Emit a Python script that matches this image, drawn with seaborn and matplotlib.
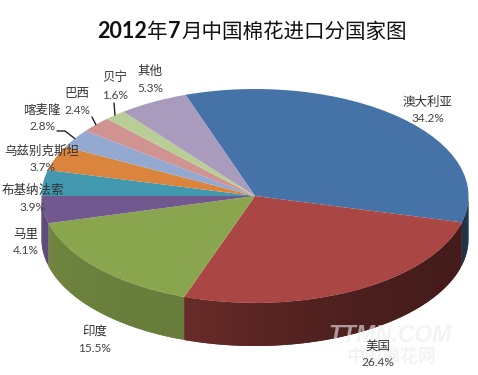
import numpy as np
import matplotlib
matplotlib.use("Agg")
import matplotlib.pyplot as plt
import matplotlib.colors as mcolors
import seaborn as sns

# 数据
countries = ["澳大利亚", "美国", "印度", "马里", "布基纳法索", "乌兹别克斯坦", "喀麦隆", "巴西", "贝宁", "其他"]
shares = [34.2, 26.4, 15.5, 4.1, 3.9, 3.7, 2.8, 2.4, 1.6, 5.3]
title_parts = [("2012", True), ("年", False), ("7", True), ("月中国棉花进口分国家图", False)]

slice_colors = ["#4572A7", "#AA4643", "#89A54E", "#71588F", "#4198AF",
                "#DB843D", "#93A9CF", "#D19392", "#B9CD96", "#A99BBD"]

# 侧面明暗 (左端, 右端)
side_shade = {0: (0.45, 0.45), 1: (0.62, 0.40), 2: (0.82, 0.76), 3: (0.85, 0.85)}

W, H = 478, 375
CX, CY, RX, RY = 255, 196, 213.5, 107
DEPTH = 43 / RY
START = 109

# 标签中心位置 (像素): 名称, 百分比
label_pos = [
    (428, 102, 118), (378, 346, 363), (95, 331, 348), (26, 234, 251), (33, 190, 207),
    (42, 151, 168), (42, 110, 127), (77, 94, 111), (115, 77, 95), (150, 71, 88),
]
# 引线的标签端 (像素)
leader_ends = {6: [(57, 131), (65, 131)], 7: [(92, 117)], 8: [(114, 103)]}


def px_x(x):
    return (x - CX) / RX


def px_y(y):
    return (CY - y) / RY


def draw_sides(ax, values):
    """画饼图前方的侧面, 角度由数据算出"""
    edges = START - np.cumsum([0] + list(values)) / sum(values) * 360
    for i, shade in side_shade.items():
        a0 = min(edges[i], 0)
        a1 = max(edges[i + 1], -180)
        if a0 <= a1:
            continue
        steps = np.linspace(a0, a1, max(int((a0 - a1) / 1.5), 2) + 1)
        base = np.array(mcolors.to_rgb(slice_colors[i]))
        for s0, s1 in zip(steps[:-1], steps[1:]):
            t = (s0 + s1) / 2
            frac = (a0 - t) / (a0 - a1)  # 0 右端, 1 左端
            k = shade[1] + (shade[0] - shade[1]) * frac ** 2.2
            # 每条向后多盖一点, 避免抗锯齿留缝
            arc = np.radians(np.linspace(s0, max(s1 - 1.5, a1), 5))
            xs = np.cos(arc)
            ys = np.sin(arc)
            order = np.argsort(xs)
            ax.fill_between(xs[order], ys[order], ys[order] - DEPTH, facecolor=base * k,
                            edgecolor="none", linewidth=0, zorder=1 + 0.1 * i)


def draw_title(fig):
    """标题: 数字用粗体, 中文用常规"""
    renderer = fig.canvas.get_renderer()
    x = 97
    for part, bold in title_parts:
        if bold:
            t = fig.text(x / W, 1 - 31.5 / H, part, family="Lato", weight="bold", fontsize=15.5,
                         color="#111111", ha="left", va="center")
        else:
            t = fig.text(x / W, 1 - 31.5 / H, part, family="Noto Sans CJK SC", fontsize=14.8,
                         color="#111111", ha="left", va="center")
        x = t.get_window_extent(renderer).x1 + 0.5


def main():
    sns.set_theme(style="white")
    plt.rcParams["font.family"] = ["Noto Sans CJK SC", "DejaVu Sans"]

    fig = plt.figure(figsize=(W / 100, H / 100), dpi=100, facecolor="white")
    ax = fig.add_axes([0, 0, 1, 1])

    draw_sides(ax, shares)
    wedges, _ = ax.pie(shares, colors=sns.color_palette(slice_colors), startangle=START,
                       counterclock=False, radius=1, wedgeprops=dict(linewidth=0, zorder=2))
    ax.set_aspect("auto")
    ax.set_xlim(px_x(0), px_x(W))
    ax.set_ylim(px_y(H), px_y(0))
    ax.axis("off")

    # 水印
    fig.text(390 / W, 1 - 335 / H, "TTMN.COM", family="Liberation Sans", weight="bold", style="italic",
             fontsize=16.5, color="#ececec", alpha=0.6, ha="center", va="center")
    fig.text(391 / W, 1 - 357 / H, "中国棉花网", family="Noto Sans CJK SC", weight="bold",
             fontsize=13, color="#ececec", alpha=0.6, ha="center", va="center")

    # 引线从扇区弧中点出发
    mids = START - (np.cumsum(shares) - np.array(shares) / 2) / sum(shares) * 360
    for i, pts in leader_ends.items():
        xs = [px_x(p[0]) for p in pts] + [np.cos(np.radians(mids[i]))]
        ys = [px_y(p[1]) for p in pts] + [np.sin(np.radians(mids[i]))]
        ax.plot(xs, ys, color="#222222", lw=1.0, zorder=3)

    for name, share, (x, y1, y2) in zip(countries, shares, label_pos):
        fig.text(x / W, 1 - y1 / H, name, family="Noto Sans CJK SC", fontsize=9, color="#333333",
                 ha="center", va="center", zorder=5)
        fig.text(x / W, 1 - y2 / H, f"{share:.1f}%", family="Lato", fontsize=8.6, color="#444444",
                 ha="center", va="center", zorder=5)

    fig.canvas.draw()
    draw_title(fig)
    fig.savefig("out.png", dpi=100)


if __name__ == "__main__":
    main()
